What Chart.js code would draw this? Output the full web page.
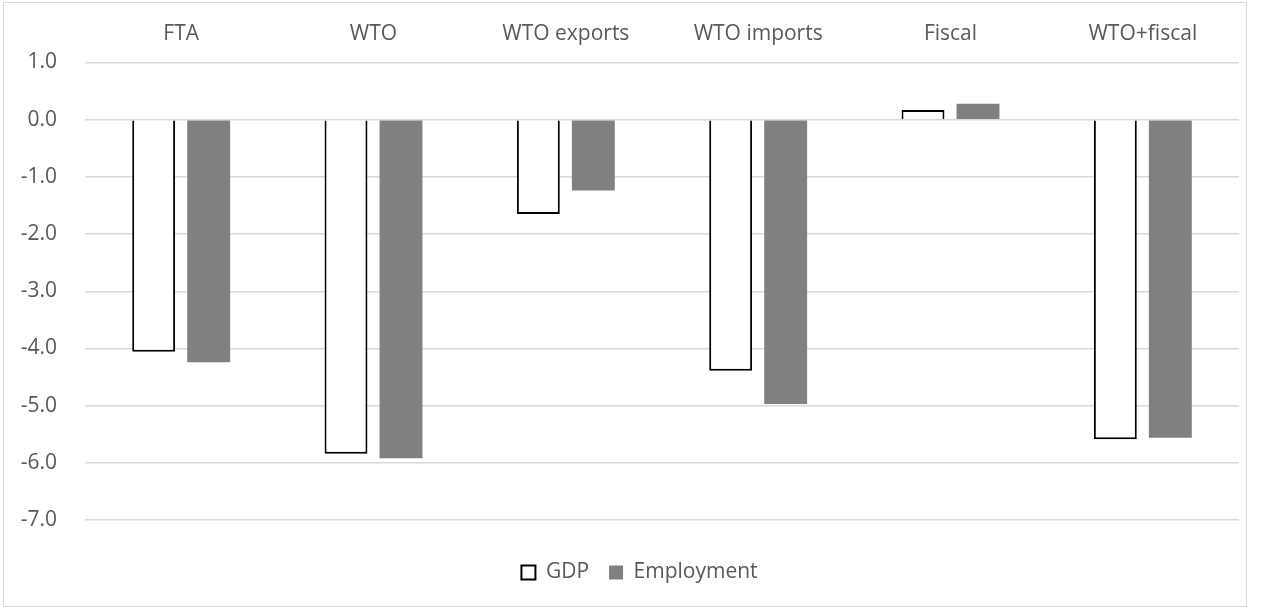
<!DOCTYPE html>
<html>
<head>
<meta charset="utf-8">
<script src="https://cdn.jsdelivr.net/npm/chart.js@4/dist/chart.umd.min.js"></script>
<style>
html,body{margin:0;padding:0;background:#fff;}
#wrap{position:absolute;left:0;top:0;width:1267px;height:609px;}
</style>
</head>
<body>
<div id="wrap"><canvas id="c" width="1267" height="609"></canvas></div>
<script>
const categories = ["FTA", "WTO", "WTO exports", "WTO imports", "Fiscal", "WTO+fiscal"];
const gdpValues = [-4.06, -5.84, -1.65, -4.39, 0.17, -5.59];
const employmentValues = [-4.24, -5.92, -1.24, -4.97, 0.28, -5.56];
const yTicks = { min: -7, max: 1, step: 1 };

const borderPlugin = {
  id: 'outerBorder',
  beforeDraw(chart) {
    const ctx = chart.ctx;
    ctx.save();
    ctx.fillStyle = '#ffffff';
    ctx.fillRect(0, 0, chart.width, chart.height);
    ctx.strokeStyle = '#d9d9d9';
    ctx.lineWidth = 1;
    ctx.strokeRect(3.5, 2.5, 1243, 604);
    ctx.restore();
  }
};

// shift the centred legend slightly right, as in the reference
const legendShift = {
  id: 'legendShift',
  afterLayout(chart) {
    if (chart.legend) { chart.legend.left += 40; }
  }
};

const FONT = "'Open Sans', 'DejaVu Sans', sans-serif";

new Chart(document.getElementById('c'), {
  type: 'bar',
  data: {
    labels: categories,
    datasets: [
      {
        label: 'GDP',
        data: gdpValues,
        backgroundColor: '#ffffff',
        borderColor: '#000000',
        borderWidth: 2,
        categoryPercentage: 0.572,
        barPercentage: 0.78
      },
      {
        label: 'Employment',
        data: employmentValues,
        backgroundColor: '#808080',
        borderColor: '#808080',
        borderWidth: 0,
        categoryPercentage: 0.572,
        barPercentage: 0.78
      }
    ]
  },
  plugins: [borderPlugin, legendShift],
  options: {
    responsive: false,
    animation: false,
    devicePixelRatio: 1,
    layout: { padding: { left: 0, right: 28, top: 0, bottom: 16 } },
    plugins: {
      legend: {
        position: 'bottom',
        title: {
          display: true,
          text: ' ',
          font: { family: FONT, size: 10, lineHeight: 1 },
          padding: 6
        },
        labels: {
          color: '#595959',
          font: { family: FONT, size: 21 },
          boxWidth: 14,
          boxHeight: 14,
          padding: 20
        }
      },
      tooltip: { enabled: false }
    },
    scales: {
      x: {
        position: 'top',
        grid: { display: false, drawTicks: false },
        border: { display: false },
        ticks: {
          color: '#595959',
          font: { family: FONT, size: 21 },
          padding: 16,
          maxRotation: 0
        },
        afterFit(scale) { scale.height = 62.5; }
      },
      y: {
        min: yTicks.min,
        max: yTicks.max,
        grid: { color: '#d9d9d9', lineWidth: 1.5, drawTicks: false },
        border: { display: false },
        ticks: {
          stepSize: yTicks.step,
          color: '#595959',
          font: { family: FONT, size: 21 },
          padding: 28,
          callback: v => Number(v).toFixed(1)
        },
        afterFit(scale) { scale.width = 85; }
      }
    }
  }
});
</script>
</body>
</html>
